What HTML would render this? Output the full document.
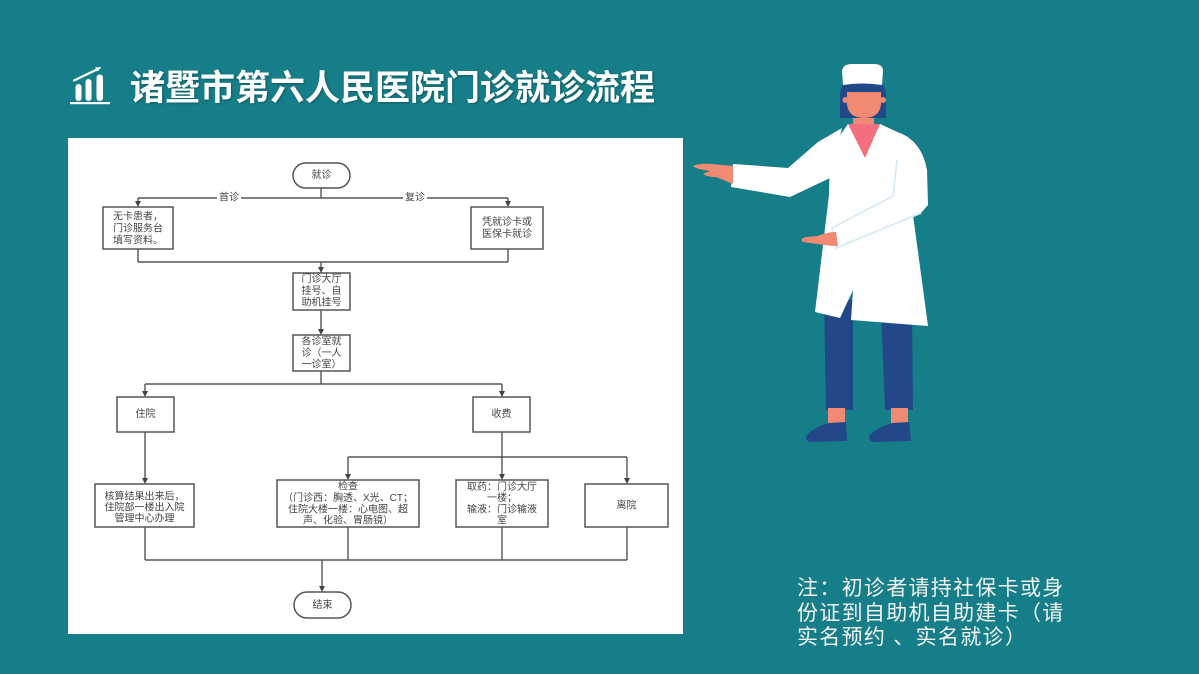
<!DOCTYPE html>
<html>
<head>
<meta charset="utf-8">
<style>
  html,body{margin:0;padding:0;}
  body{width:1199px;height:674px;background:#167e88;position:relative;overflow:hidden;
       font-family:"Liberation Sans","Noto Sans CJK SC",sans-serif;}
  .title{position:absolute;left:130px;top:71px;font-size:35px;line-height:35px;font-weight:bold;color:#fff;
         white-space:nowrap;text-shadow:1px 1px 2px rgba(0,0,0,0.3);
         font-family:"Liberation Sans","Noto Sans CJK SC",sans-serif;}
  .note{position:absolute;left:797px;top:577px;font-size:21px;line-height:24.5px;color:#f4f4f4;
        letter-spacing:1.3px;white-space:pre;
        font-family:"Liberation Sans","Noto Sans CJK SC",sans-serif;}
  svg{position:absolute;left:0;top:0;}
</style>
</head>
<body>
<svg width="1199" height="674" viewBox="0 0 1199 674" xmlns="http://www.w3.org/2000/svg">
  <!-- title icon -->
  <g fill="#fff">
    <rect x="75.5" y="84" width="6" height="17" rx="3"/>
    <rect x="85.5" y="79" width="6" height="22" rx="3"/>
    <rect x="96.5" y="74.5" width="6.5" height="26.5" rx="3"/>
    <rect x="70" y="102" width="40" height="2.2"/>
    <polygon points="101.5,67 95,67.5 97.5,71.5"/>
  </g>
  <line x1="74" y1="80.5" x2="98" y2="69" stroke="#fff" stroke-width="2.2" stroke-linecap="round"/>

  <!-- white panel -->
  <rect x="68" y="138" width="615" height="496" fill="#ffffff"/>

  <!-- flowchart lines -->
  <g stroke="#555" stroke-width="1.4" fill="none">
    <line x1="321" y1="188" x2="321" y2="198"/>
    <line x1="138" y1="198" x2="508" y2="198"/>
    <line x1="138" y1="198" x2="138" y2="203"/>
    <line x1="508" y1="198" x2="508" y2="203"/>
    <line x1="138" y1="249" x2="138" y2="262"/>
    <line x1="508" y1="249" x2="508" y2="262"/>
    <line x1="138" y1="262" x2="508" y2="262"/>
    <line x1="321" y1="262" x2="321" y2="269"/>
    <line x1="321" y1="310" x2="321" y2="331"/>
    <line x1="321" y1="371" x2="321" y2="384"/>
    <line x1="145" y1="384" x2="502" y2="384"/>
    <line x1="145" y1="384" x2="145" y2="393"/>
    <line x1="502" y1="384" x2="502" y2="393"/>
    <line x1="145" y1="432" x2="145" y2="480"/>
    <line x1="502" y1="432" x2="502" y2="476"/>
    <line x1="348" y1="457" x2="627" y2="457"/>
    <line x1="348" y1="457" x2="348" y2="476"/>
    <line x1="627" y1="457" x2="627" y2="480"/>
    <line x1="145" y1="527" x2="145" y2="560"/>
    <line x1="348" y1="527" x2="348" y2="560"/>
    <line x1="502" y1="527" x2="502" y2="560"/>
    <line x1="627" y1="527" x2="627" y2="560"/>
    <line x1="145" y1="560" x2="627" y2="560"/>
    <line x1="322" y1="560" x2="322" y2="588"/>
  </g>
  <!-- arrowheads -->
  <g fill="#444">
    <polygon points="135,201 141,201 138,207"/>
    <polygon points="505,201 511,201 508,207"/>
    <polygon points="318,267 324,267 321,273"/>
    <polygon points="318,329 324,329 321,335"/>
    <polygon points="142,391 148,391 145,397"/>
    <polygon points="499,391 505,391 502,397"/>
    <polygon points="142,478 148,478 145,484"/>
    <polygon points="499,474 505,474 502,480"/>
    <polygon points="345,474 351,474 348,480"/>
    <polygon points="624,478 630,478 627,484"/>
    <polygon points="319,586 325,586 322,592"/>
  </g>
  <!-- label backgrounds -->
  <rect x="217" y="192" width="24" height="12" fill="#fff"/>
  <rect x="403" y="192" width="24" height="12" fill="#fff"/>

  <!-- boxes -->
  <g stroke="#555" stroke-width="1.5" fill="#fff">
    <rect x="293" y="163" width="57" height="25" rx="12.5"/>
    <rect x="103" y="207" width="70" height="42"/>
    <rect x="471" y="207" width="72" height="42"/>
    <rect x="293" y="273" width="57" height="37"/>
    <rect x="293" y="335" width="57" height="36"/>
    <rect x="117" y="397" width="57" height="35"/>
    <rect x="473" y="397" width="57" height="35"/>
    <rect x="95" y="484" width="99" height="43"/>
    <rect x="277" y="480" width="142" height="47"/>
    <rect x="456" y="480" width="92" height="47"/>
    <rect x="585" y="484" width="83" height="43"/>
    <rect x="294" y="592" width="57" height="26" rx="13"/>
  </g>

  <!-- flowchart text -->
  <g font-family="Liberation Sans, Noto Sans CJK SC, sans-serif" font-size="10" fill="#444" text-anchor="middle" dominant-baseline="central">
    <text x="321.5" y="175.5">就诊</text>
    <text x="229" y="198">首诊</text>
    <text x="415" y="198">复诊</text>
    <text x="138" y="217">无卡患者，</text>
    <text x="138" y="229">门诊服务台</text>
    <text x="138" y="241">填写资料。</text>
    <text x="507" y="222.5">凭就诊卡或</text>
    <text x="507" y="234.5">医保卡就诊</text>
    <text x="321.5" y="279.5">门诊大厅</text>
    <text x="321.5" y="291.5">挂号、自</text>
    <text x="321.5" y="303">助机挂号</text>
    <text x="321.5" y="342">各诊室就</text>
    <text x="321.5" y="353.5">诊（一人</text>
    <text x="321.5" y="365">一诊室）</text>
    <text x="145.5" y="414.5">住院</text>
    <text x="501.5" y="414.5">收费</text>
    <text x="144.5" y="497">核算结果出来后，</text>
    <text x="144.5" y="508">住院部一楼出入院</text>
    <text x="144.5" y="519">管理中心办理</text>
    <text x="348" y="487">检查</text>
    <text x="348" y="498.5">（门诊西：胸透、X光、CT；</text>
    <text x="348" y="510">住院大楼一楼：心电图、超</text>
    <text x="348" y="521">声、化验、胃肠镜）</text>
    <text x="502" y="487.5">取药：门诊大厅</text>
    <text x="502" y="498.5">一楼；</text>
    <text x="502" y="510">输液：门诊输液</text>
    <text x="502" y="521">室</text>
    <text x="626.5" y="506">离院</text>
    <text x="322.5" y="605.5">结束</text>
  </g>

  <!-- nurse -->
  <g>
    <!-- legs -->
    <polygon points="824,300 853,300 853,410 826,410" fill="#23488a"/>
    <polygon points="881,310 912,310 913,410 885,410" fill="#23488a"/>
    <!-- ankles -->
    <rect x="828" y="408" width="17" height="17" fill="#f08a72"/>
    <rect x="891" y="408" width="17" height="17" fill="#f08a72"/>
    <!-- shoes -->
    <path d="M846,422 L847,441 L811,442 Q804,441 807,435 Q814,427 829,423 Z" fill="#23488a"/>
    <path d="M909,422 L911,441 L874,442 Q867,441 870,435 Q878,427 892,423 Z" fill="#23488a"/>
    <!-- neck -->
    <rect x="853" y="108" width="21" height="20" fill="#f08a72"/>
    <rect x="853" y="112" width="21" height="6" fill="#d9705b"/>
    <!-- coat body -->
    <path d="M848,124 L880,124 L908,137 Q916,150 914,180 L913,215 L928,326 L851,320 L853,290 L840,318 L815,312 L829,195 L830,150 Z" fill="#ffffff"/>
    <!-- pink shirt -->
    <polygon points="848,124 880,124 865,158" fill="#f46e7e"/>
    <!-- pointing arm -->
    <path d="M842,128 L818,142 L788,168 L733,164 L731,187 L790,197 L830,178 Z" fill="#ffffff"/>
    <path d="M733,166 L712,164 Q699,163 693,166 Q696,169 710,171 L703,174 Q707,177 716,177 L733,184 Z" fill="#f08a72"/>
    <!-- right arm -->
    <path d="M900,133 Q922,142 927,170 L928,205 L921,213 L838,249 L832,228 L893,196 L897,160 Z" fill="#ffffff"/>
    <polyline points="897,160 893,196 832,228 836,248 921,213" fill="none" stroke="#d8ebf5" stroke-width="1.8"/>
    <path d="M836,232 Q826,232 818,236 L806,237 Q799,239 803,242 L818,244 Q828,246 838,246 Z" fill="#f08a72"/>
    <!-- head -->
    <path d="M840,95 Q840,78 863,78 Q886,78 886,95 L886,118 L840,118 Z" fill="#23488a"/>
    <path d="M847,92 L881,92 L881,105 Q879,118 864,118 Q849,118 847,105 Z" fill="#f08a72"/>
    <circle cx="845.5" cy="100" r="3" fill="#f08a72"/>
    <circle cx="883" cy="100" r="3" fill="#f08a72"/>
    <path d="M843,85 L842,71 Q843,64 852,64 L874,64 Q883,64 883,71 L882,85 Q862,82 843,85 Z" fill="#ffffff"/>
  </g>
</svg>

<div class="title">诸暨市第六人民医院门诊就诊流程</div>
<div class="note">注：初诊者请持社保卡或身
份证到自助机自助建卡（请
实名预约 、实名就诊）</div>
</body>
</html>
